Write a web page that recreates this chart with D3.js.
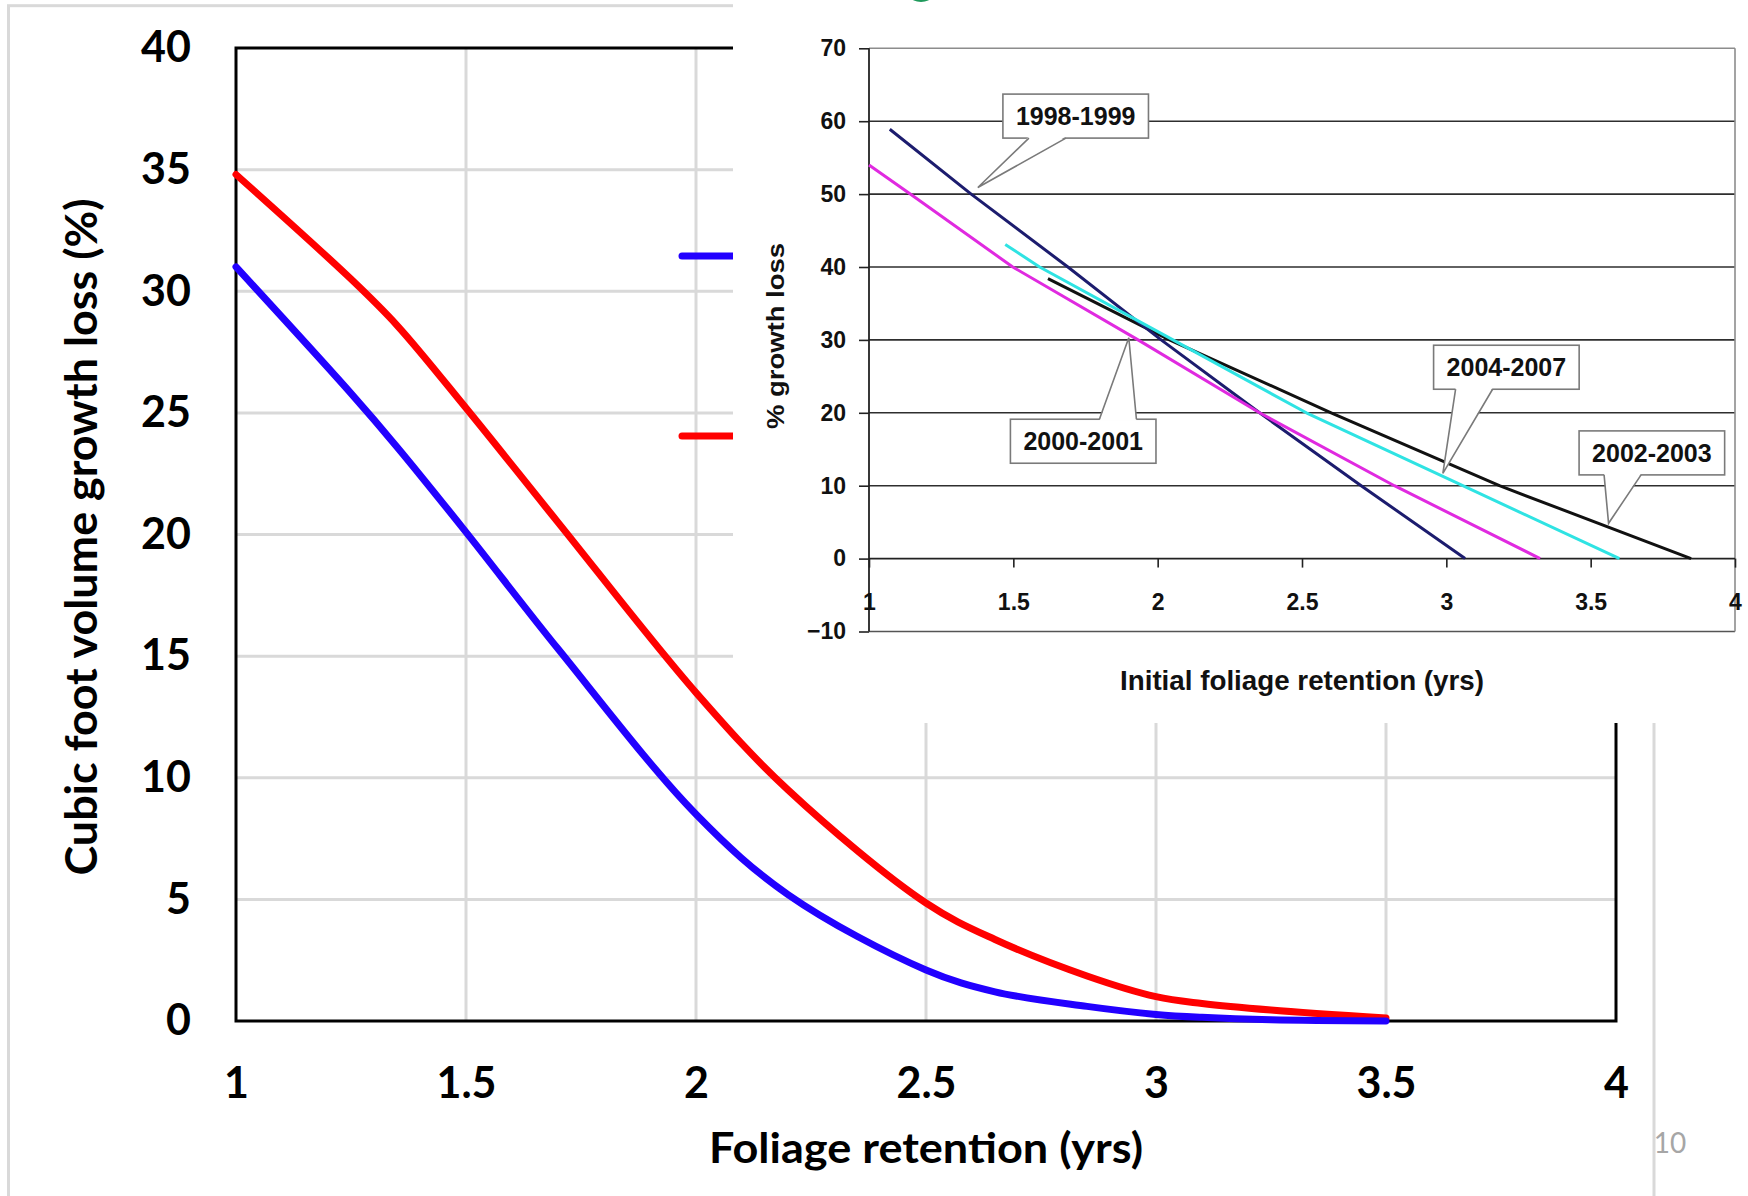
<!DOCTYPE html>
<html>
<head>
<meta charset="utf-8">
<script src="https://cdn.jsdelivr.net/npm/d3@7"></script>
<style>
  body { margin: 0; background: #fff; }
  svg { display: block; }
</style>
</head>
<body>
<div id="chart"></div>
<script>
// main chart: cubic foot volume growth loss against foliage retention
const retention = [1, 1.25, 1.35, 1.5, 1.7, 2, 2.2, 2.5, 2.65, 2.85, 3, 3.1, 3.25, 3.5];
const lossBlue = [31.0, 25.8, 23.6, 20.1, 15.3, 8.5, 5.2, 2.1, 1.2, 0.6, 0.27, 0.15, 0.05, 0];
const lossRed = [34.8, 30.5, 28.6, 25.2, 20.5, 13.5, 9.5, 4.85, 3.35, 1.85, 1.0, 0.72, 0.45, 0.12];
const mainXTicks = [1, 1.5, 2, 2.5, 3, 3.5, 4];
const mainYTicks = [0, 5, 10, 15, 20, 25, 30, 35, 40];

// inset chart: % growth loss against initial foliage retention
const insetXTicks = [1, 1.5, 2, 2.5, 3, 3.5, 4];
const insetYTicks = [-10, 0, 10, 20, 30, 40, 50, 60, 70];
const x9899 = [1.072, 1.354, 1.689, 2.012, 2.353, 2.705, 3.065];
const y9899 = [58.9, 50, 40, 30, 20, 10, 0];
const x0001 = [1.0, 1.143, 1.498, 1.932, 2.353, 2.82, 3.325];
const y0001 = [54, 50, 40, 30, 20, 10, 0];
const x0407 = [1.472, 1.591, 2.053, 2.515, 3.057, 3.6];
const y0407 = [43.1, 40, 30, 20, 10, 0];
const x0203 = [1.62, 2.041, 2.601, 3.184, 3.848];
const y0203 = [38.4, 30, 20, 10, 0];
const calloutLabels = ["1998-1999", "2000-2001", "2004-2007", "2002-2003"];
const calloutTips = [[1.377, 50.9], [1.900, 30.3], [2.988, 11.7], [3.562, 4.84]];
const calloutBoxes = [[1.716, 60.7], [1.742, 16.1], [3.208, 26.25], [3.712, 14.5]];

function draw() {
    const W = 1748, H = 1196;
    const svg = d3.select("#chart").append("svg")
        .attr("width", W).attr("height", H)
        .attr("viewBox", `0 0 ${W} ${H}`);

    svg.append("rect").attr("width", W).attr("height", H).attr("fill", "#fff");

    // slide frame
    svg.append("rect")
        .attr("x", 8.5).attr("y", 5.7).attr("width", 1645.5).attr("height", 1220)
        .attr("fill", "none").attr("stroke", "#d9d9d9").attr("stroke-width", 3);

    // ---------- main chart ----------
    const x = d3.scaleLinear().domain([1, 4]).range([236, 1616]);
    const y = d3.scaleLinear().domain([0, 40]).range([1021, 48]);
    const mainFont = "Lato, 'Open Sans', sans-serif";

    const grid = svg.append("g").attr("stroke", "#d9d9d9").attr("stroke-width", 3);
    grid.selectAll(".gx").data(mainXTicks.slice(1, -1)).enter().append("line")
        .attr("x1", d => x(d)).attr("x2", d => x(d))
        .attr("y1", y(40)).attr("y2", y(0));
    grid.selectAll(".gy").data(mainYTicks.slice(1, -1)).enter().append("line")
        .attr("x1", x(1)).attr("x2", x(4))
        .attr("y1", d => y(d)).attr("y2", d => y(d));

    svg.append("rect")
        .attr("x", x(1)).attr("y", y(40))
        .attr("width", x(4) - x(1)).attr("height", y(0) - y(40))
        .attr("fill", "none").attr("stroke", "#000").attr("stroke-width", 3);

    const yAxis = svg.append("g")
        .attr("transform", `translate(${x(1)},0)`)
        .call(d3.axisLeft(y).tickValues(mainYTicks).tickSize(0).tickPadding(45).tickFormat(d3.format("d")));
    const xAxis = svg.append("g")
        .attr("transform", `translate(0,${y(0)})`)
        .call(d3.axisBottom(x).tickValues(mainXTicks).tickSize(0).tickPadding(46).tickFormat(d => String(d)));
    [yAxis, xAxis].forEach(a => {
        a.select(".domain").remove();
        a.selectAll("text")
            .style("font-family", mainFont).style("font-weight", "bold")
            .style("font-size", "43px").attr("fill", "#000");
    });

    const mainLine = vals => d3.line()
        .x((d, i) => x(retention[i]))
        .y(d => y(d))
        .curve(d3.curveCatmullRom.alpha(0.5))(vals);

    svg.append("path").attr("d", mainLine(lossRed))
        .attr("fill", "none").attr("stroke", "#ff0000").attr("stroke-width", 7)
        .attr("stroke-linecap", "round").attr("stroke-linejoin", "round");
    svg.append("path").attr("d", mainLine(lossBlue))
        .attr("fill", "none").attr("stroke", "#2200ff").attr("stroke-width", 7)
        .attr("stroke-linecap", "round").attr("stroke-linejoin", "round");

    // legend keys (their labels sit under the inset)
    svg.append("line").attr("x1", 682).attr("x2", 760).attr("y1", 256).attr("y2", 256)
        .attr("stroke", "#2200ff").attr("stroke-width", 7).attr("stroke-linecap", "round");
    svg.append("line").attr("x1", 682).attr("x2", 760).attr("y1", 436).attr("y2", 436)
        .attr("stroke", "#ff0000").attr("stroke-width", 7).attr("stroke-linecap", "round");

    svg.append("text")
        .attr("transform", "translate(97,537) rotate(-90)")
        .attr("text-anchor", "middle")
        .attr("textLength", 677).attr("lengthAdjust", "spacingAndGlyphs")
        .style("font-family", mainFont).style("font-weight", "bold").style("font-size", "44px")
        .text("Cubic foot volume growth loss (%)");

    svg.append("text")
        .attr("x", 926).attr("y", 1163)
        .attr("text-anchor", "middle")
        .attr("textLength", 434).attr("lengthAdjust", "spacingAndGlyphs")
        .style("font-family", mainFont).style("font-weight", "bold").style("font-size", "42px")
        .text("Foliage retention (yrs)");

    svg.append("text")
        .attr("x", 1670).attr("y", 1153).attr("text-anchor", "middle")
        .style("font-family", mainFont).style("font-size", "28px").attr("fill", "#a6a6a6")
        .text("10");

    // ---------- inset picture ----------
    svg.append("rect").attr("x", 733).attr("y", 0).attr("width", W - 733).attr("height", 723)
        .attr("fill", "#fff");
    svg.append("ellipse").attr("cx", 921).attr("cy", -3).attr("rx", 10).attr("ry", 5)
        .attr("fill", "#1f9a5c");

    const xi = d3.scaleLinear().domain([1, 4]).range([869, 1735]);
    const yi = d3.scaleLinear().domain([-10, 70]).range([631.5, 48.3]);
    const insetFont = "'Liberation Sans', Arial, sans-serif";

    const ig = svg.append("g");
    ig.selectAll(".ig").data(insetYTicks.filter(d => d > 0 && d < 70)).enter().append("line")
        .attr("x1", xi(1)).attr("x2", xi(4))
        .attr("y1", d => yi(d)).attr("y2", d => yi(d))
        .attr("stroke", "#2e2e2e").attr("stroke-width", 1.6);
    ig.append("line").attr("x1", xi(1)).attr("x2", xi(4)).attr("y1", yi(70)).attr("y2", yi(70))
        .attr("stroke", "#8c8c8c").attr("stroke-width", 1.6);
    ig.append("line").attr("x1", xi(1)).attr("x2", xi(4)).attr("y1", yi(-10)).attr("y2", yi(-10))
        .attr("stroke", "#555").attr("stroke-width", 1.6);
    ig.append("line").attr("x1", xi(4)).attr("x2", xi(4)).attr("y1", yi(70)).attr("y2", yi(-10))
        .attr("stroke", "#8c8c8c").attr("stroke-width", 1.6);
    ig.append("line").attr("x1", xi(1)).attr("x2", xi(4)).attr("y1", yi(0)).attr("y2", yi(0))
        .attr("stroke", "#222").attr("stroke-width", 1.8);
    ig.append("line").attr("x1", xi(1)).attr("x2", xi(1)).attr("y1", yi(70)).attr("y2", yi(-10))
        .attr("stroke", "#222").attr("stroke-width", 1.8);

    const iyAxis = svg.append("g")
        .attr("transform", `translate(${xi(1)},0)`)
        .call(d3.axisLeft(yi).tickValues(insetYTicks).tickSize(10).tickPadding(13));
    const ixAxis = svg.append("g")
        .attr("transform", `translate(0,${yi(0)})`)
        .call(d3.axisBottom(xi).tickValues(insetXTicks).tickSize(9).tickPadding(26).tickFormat(d => String(d)));
    [iyAxis, ixAxis].forEach(a => {
        a.select(".domain").remove();
        a.selectAll("line").attr("stroke", "#222").attr("stroke-width", 1.6);
        a.selectAll("text")
            .style("font-family", insetFont).style("font-weight", "bold")
            .style("font-size", "23px").attr("fill", "#111");
    });

    const series = [
        {xs: x9899, ys: y9899, color: "#1c1c6e"},
        {xs: x0001, ys: y0001, color: "#e02ae0"},
        {xs: x0407, ys: y0407, color: "#2fe3e3"},
        {xs: x0203, ys: y0203, color: "#111111"}
    ];
    const insetLine = s => d3.line().x((d, i) => xi(s.xs[i])).y(d => yi(d))(s.ys);
    // black first so the coloured lines sit over it where they touch
    [series[3], series[0], series[1], series[2]].forEach(s => {
        svg.append("path").attr("d", insetLine(s))
            .attr("fill", "none").attr("stroke", s.color).attr("stroke-width", 3)
            .attr("stroke-linejoin", "round");
    });

    svg.append("text")
        .attr("x", 1302).attr("y", 690).attr("text-anchor", "middle")
        .attr("textLength", 364).attr("lengthAdjust", "spacingAndGlyphs")
        .style("font-family", insetFont).style("font-weight", "bold").style("font-size", "28px")
        .attr("fill", "#111")
        .text("Initial foliage retention (yrs)");

    svg.append("text")
        .attr("transform", "translate(784,336) rotate(-90)")
        .attr("text-anchor", "middle")
        .attr("textLength", 186).attr("lengthAdjust", "spacingAndGlyphs")
        .style("font-family", insetFont).style("font-weight", "bold").style("font-size", "24px")
        .attr("fill", "#111")
        .text("% growth loss");

    // callouts: box + wedge pointing at the line
    const wedgeOffsets = [26, 89, 22, 25];
    calloutLabels.forEach((label, i) => {
        const g = svg.append("g");
        const cx = xi(calloutBoxes[i][0]), cy = yi(calloutBoxes[i][1]);
        const tx = xi(calloutTips[i][0]), ty = yi(calloutTips[i][1]);
        const t = g.append("text")
            .attr("x", cx).attr("y", cy + 9).attr("text-anchor", "middle")
            .style("font-family", insetFont).style("font-weight", "bold").style("font-size", "25px")
            .attr("fill", "#111")
            .text(label);
        const tw = t.node().getComputedTextLength();
        const bw = tw + 26, bh = 44;
        const bx = cx - bw / 2, by = cy - bh / 2;
        g.insert("rect", "text")
            .attr("x", bx).attr("y", by).attr("width", bw).attr("height", bh)
            .attr("fill", "#fff").attr("stroke", "#7a7a7a").attr("stroke-width", 1.6);
        const edgeY = ty > cy ? by + bh : by;
        const inward = ty > cy ? -1.5 : 1.5;
        const bl = bx + wedgeOffsets[i], br = bl + 37;
        g.insert("path", "text")
            .attr("d", `M${bl},${edgeY + inward}L${tx},${ty}L${br},${edgeY + inward}Z`)
            .attr("fill", "#fff").attr("stroke", "none");
        g.insert("path", "text")
            .attr("d", `M${bl},${edgeY}L${tx},${ty}L${br},${edgeY}`)
            .attr("fill", "none").attr("stroke", "#7a7a7a").attr("stroke-width", 1.6);
    });
}

if (document.readyState === "loading") {
    document.addEventListener("DOMContentLoaded", draw);
} else {
    draw();
}
</script>
</body>
</html>
